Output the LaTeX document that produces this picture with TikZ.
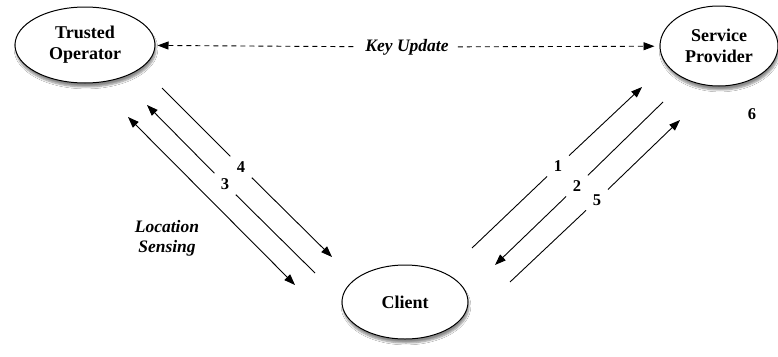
\documentclass[tikz,border=0pt]{standalone}
\usepackage{fontspec}
\setmainfont{Liberation Serif}
\usetikzlibrary{shapes.geometric,arrows.meta,shadows.blur}
\begin{document}
\begin{tikzpicture}[x=1pt,y=-1pt,
  party/.style={ellipse,draw,line width=1pt,fill=white,inner sep=0pt,align=center,
    font=\fontsize{18}{21}\selectfont\bfseries,
    blur shadow={shadow xshift=1pt,shadow yshift=-4pt,shadow blur steps=6,shadow opacity=45}},
  tip/.style={Triangle[length=11pt,width=8pt]},
  msg/.style={line width=0.9pt},
  num/.style={circle,inner sep=0pt,minimum size=30pt,font=\fontsize{16.5}{18}\selectfont\bfseries},
  lbl/.style={font=\fontsize{17.5}{20}\selectfont\bfseries\itshape,align=center}]
\useasboundingbox (0,0) rectangle (778,356);
\fill[white] (0,0) rectangle (778,356);
% parties
\node[party,minimum width=140pt,minimum height=76pt] (to) at (85,45) {Trusted\\Operator};
\node[party,minimum width=118pt,minimum height=80pt] (sp) at (719,46) {Service\\Provider};
\node[party,minimum width=126pt,minimum height=74pt] (cl) at (405,302) {Client};
% key update
\node[lbl,inner xsep=9pt] (ku) at (407,47) {Key Update};
\draw[msg,dash pattern=on 5pt off 4pt,{Triangle[length=11pt,width=8pt]}-,shorten <=2pt] (to) -- (ku);
\draw[msg,dash pattern=on 5pt off 4pt,-{Triangle[length=11pt,width=8pt]},shorten >=5pt] (ku) -- (sp);
% left side
\coordinate (a1) at (128,117); \coordinate (a2) at (295,285);
\coordinate (b1) at (147,105); \coordinate (b2) at (315,273);
\coordinate (c1) at (162,88);  \coordinate (c2) at (332,257);
\node[num] (n3) at (225,184) {3};
\node[num] (n4) at (241,167) {4};
\draw[msg,{Triangle[length=11pt,width=8pt]}-{Triangle[length=11pt,width=8pt]}] (a1) -- (a2);
\draw[msg,{Triangle[length=11pt,width=8pt]}-] (b1) -- (n3);
\draw[msg] (n3) -- (b2);
\draw[msg] (c1) -- (n4);
\draw[msg,-{Triangle[length=11pt,width=8pt]}] (n4) -- (c2);
\node[lbl] (ls) at (167,238) {Location\\Sensing};
% right side
\coordinate (d1) at (472,248); \coordinate (d2) at (642,87);
\coordinate (e1) at (663,102); \coordinate (e2) at (495,265);
\coordinate (f1) at (510,282); \coordinate (f2) at (680,120);
\node[num] (n1) at (558,166) {1};
\node[num] (n2) at (577,186) {2};
\node[num] (n5) at (597,200) {5};
\draw[msg] (d1) -- (n1);
\draw[msg,-{Triangle[length=11pt,width=8pt]}] (n1) -- (d2);
\draw[msg] (e1) -- (n2);
\draw[msg,-{Triangle[length=11pt,width=8pt]}] (n2) -- (e2);
\draw[msg] (f1) -- (n5);
\draw[msg,-{Triangle[length=11pt,width=8pt]}] (n5) -- (f2);
\node[num] (n6) at (752,114) {6};
\end{tikzpicture}
\end{document}
